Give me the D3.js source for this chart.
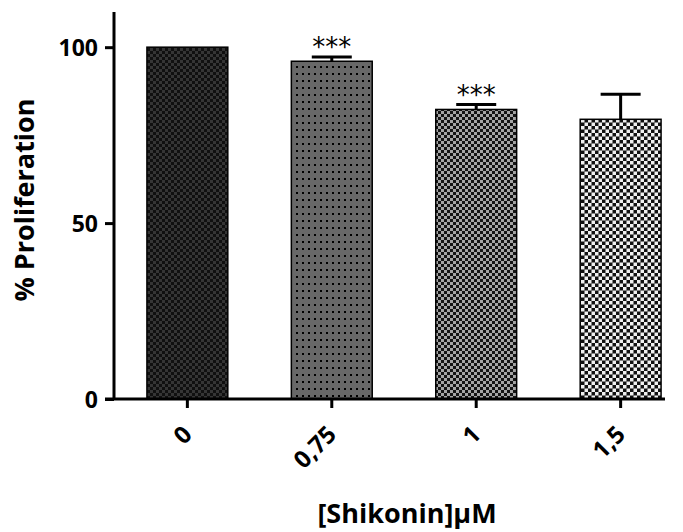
<!DOCTYPE html>
<html lang="en">
<head>
<meta charset="utf-8">
<title>Shikonin proliferation</title>
<script src="https://cdn.jsdelivr.net/npm/d3@7"></script>
<style>
  body { margin: 0; background: #fff; }
  .axis text { font-family: "Open Sans", sans-serif; font-weight: bold; fill: #000; }
</style>
</head>
<body>
<script>
// data
var doses = ["0", "0,75", "1", "1,5"];
var means = [100, 96, 82.3, 79.5];
var errs  = [0, 1.2, 1.4, 7.1];
var stars = ["", "***", "***", ""];
var yTicks = [0, 50, 100];

var w = 683, h = 532;
var margin = {left: 114, top: 12, right: 18, bottom: 133};

var svg = d3.select("body").append("svg")
    .attr("width", w)
    .attr("height", h);

// fill patterns, one per bar
var defs = svg.append("defs");
function checker(id, s, bg, fg) {
  var p = defs.append("pattern").attr("id", id)
      .attr("patternUnits", "userSpaceOnUse")
      .attr("width", s * 2).attr("height", s * 2);
  p.append("rect").attr("width", s * 2).attr("height", s * 2).attr("fill", bg);
  p.append("rect").attr("x", 0).attr("y", 0).attr("width", s).attr("height", s).attr("fill", fg);
  p.append("rect").attr("x", s).attr("y", s).attr("width", s).attr("height", s).attr("fill", fg);
}
checker("p0", 3, "#101010", "#353535");
checker("p2", 3, "#141414", "#a5a5a5");
checker("p3", 3.5, "#111", "#f0f0f0");
var dots = defs.append("pattern").attr("id", "p1")
    .attr("patternUnits", "userSpaceOnUse")
    .attr("width", 6).attr("height", 7);
dots.append("rect").attr("width", 6).attr("height", 7).attr("fill", "#686868");
dots.append("rect").attr("x", 2).attr("y", 3).attr("width", 2).attr("height", 2).attr("fill", "#000");

var x = d3.scaleBand()
    .domain(doses)
    .range([margin.left, 694])
    .paddingInner(0.44)
    .paddingOuter(0.228);

var y = d3.scaleLinear()
    .domain([0, 110])
    .range([h - margin.bottom, margin.top]);

// bars
svg.selectAll("rect.bar")
    .data(doses)
    .enter()
    .append("rect")
    .attr("class", "bar")
    .attr("x", function(d) { return x(d); })
    .attr("width", x.bandwidth())
    .attr("y", function(d, i) { return y(means[i]); })
    .attr("height", function(d, i) { return y(0) - y(means[i]); })
    .attr("fill", function(d, i) { return "url(#p" + i + ")"; })
    .attr("stroke", "#000")
    .attr("stroke-width", 1.5);

// error bars (upper only)
function errTop(d) { var i = doses.indexOf(d); return y(means[i] + errs[i]); }
function mid(d) { return x(d) + x.bandwidth() / 2; }
var eb = svg.selectAll("g.err")
    .data(doses.filter(function(d, i) { return errs[i] > 0; }))
    .enter()
    .append("g");
eb.append("line")
    .attr("x1", mid).attr("x2", mid)
    .attr("y1", function(d) { return y(means[doses.indexOf(d)]); })
    .attr("y2", errTop)
    .attr("stroke", "#000").attr("stroke-width", 3);
eb.append("line")
    .attr("x1", function(d) { return mid(d) - 20; })
    .attr("x2", function(d) { return mid(d) + 20; })
    .attr("y1", errTop).attr("y2", errTop)
    .attr("stroke", "#000").attr("stroke-width", 3);

// significance stars
svg.selectAll("text.star")
    .data(doses)
    .enter()
    .append("text")
    .attr("x", mid)
    .attr("y", function(d) { return errTop(d) - 1; })
    .attr("text-anchor", "middle")
    .attr("font-family", "DejaVu Sans, sans-serif")
    .attr("font-size", 26)
    .text(function(d, i) { return stars[i]; });

// y axis
var yAxis = svg.append("g")
    .attr("class", "axis")
    .attr("transform", "translate(" + margin.left + ",0)")
    .call(d3.axisLeft(y).tickValues(yTicks).tickSize(9).tickPadding(7));
yAxis.select(".domain").attr("d", "M0," + y(110) + "V" + y(0)).attr("stroke-width", 3);
yAxis.selectAll(".tick line").attr("stroke-width", 3);
yAxis.selectAll("text").attr("font-size", 23).attr("dy", "0.36em");

// x axis
var xAxis = svg.append("g")
    .attr("class", "axis")
    .attr("transform", "translate(0," + y(0) + ")")
    .call(d3.axisBottom(x).tickSize(9).tickSizeOuter(0));
xAxis.select(".domain").attr("d", "M" + (margin.left - 9) + ",0H" + (w - margin.right)).attr("stroke-width", 3);
xAxis.selectAll(".tick line").attr("stroke-width", 3);
xAxis.selectAll("text")
    .attr("font-size", 24)
    .attr("text-anchor", "end")
    .attr("x", 0).attr("y", 0).attr("dy", 0)
    .attr("transform", "translate(6,37) rotate(-45)");

// axis titles
svg.append("text")
    .attr("transform", "translate(34,200) rotate(-90)")
    .attr("text-anchor", "middle")
    .attr("font-family", "Open Sans, sans-serif")
    .attr("font-weight", "bold")
    .attr("font-size", 27)
    .text("% Proliferation");

svg.append("text")
    .attr("x", 407)
    .attr("y", 523)
    .attr("text-anchor", "middle")
    .attr("font-family", "Open Sans, sans-serif")
    .attr("font-weight", "bold")
    .attr("font-size", 27)
    .text("[Shikonin]\u03bcM");
</script>
</body>
</html>
